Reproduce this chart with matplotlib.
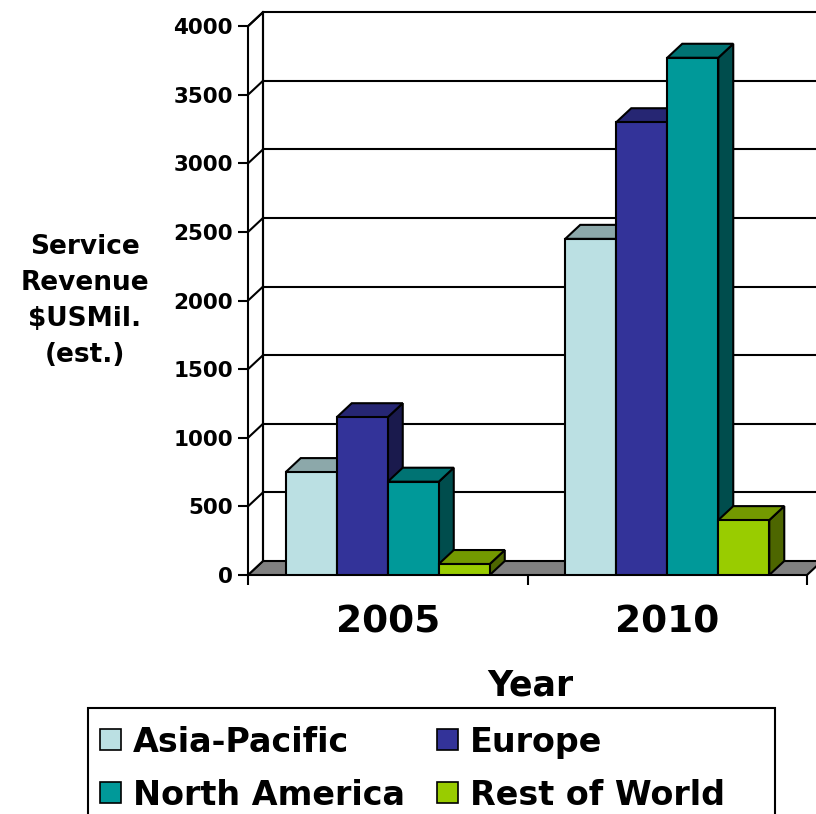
import numpy as np
import matplotlib
matplotlib.use("Agg")
import matplotlib.pyplot as plt
from matplotlib.patches import Polygon, Rectangle

# data
years = ["2005", "2010"]
series = ["Asia-Pacific", "Europe", "North America", "Rest of World"]
asia_pacific = [750, 2450]
europe = [1150, 3300]
north_america = [680, 3770]
rest_of_world = [80, 400]
values = [asia_pacific, europe, north_america, rest_of_world]
colors = ["#BBE0E3", "#333399", "#009999", "#99CC00"]
yticks = np.arange(0, 4001, 500)

plt.rcParams['font.family'] = ['DejaVu Sans']
plt.rcParams['font.weight'] = 'bold'

W, H = 816, 814
fig = plt.figure(figsize=(W / 100, H / 100), dpi=100)

# axes: x in category units (one category per unit), y in $US mil
cat_px = 279.5
val_px = 68.6 / 500
ax = fig.add_axes([248 / W, (H - 575) / H, (W - 248) / W, 575 / H])
ax.set_xlim(0, (W - 248) / cat_px)
ax.set_ylim(0, 575 / val_px)
for s in ax.spines.values():
    s.set_visible(False)

# 3d depth offset
dx = 15 / cat_px
dy = 14 / val_px
lw = 1.5
top = yticks[-1]
ncat = len(years)

# floor
ax.add_patch(Polygon([(0, 0), (ncat, 0), (ncat + dx, dy), (dx, dy)],
                     fc="#808080", ec="k", lw=lw, zorder=1, clip_on=False))
# left wall
ax.add_patch(Polygon([(0, 0), (0, top), (dx, top + dy), (dx, dy)],
                     fc="white", ec="k", lw=lw, zorder=1, clip_on=False))
# gridlines on left and back walls
for v in yticks[1:]:
    ax.plot([0, dx], [v, v + dy], color="k", lw=lw, zorder=2, clip_on=False)
    ax.plot([dx, ncat + 0.3], [v + dy, v + dy], color="k", lw=lw, zorder=2)
ax.plot([dx, dx], [dy, top + dy], color="k", lw=lw, zorder=2)


def shade(c, f):
    return tuple(np.array(matplotlib.colors.to_rgb(c)) * f)


bar_w = 0.1825
gap = (1 - len(series) * bar_w) / 2
for c in range(ncat):
    for i in range(len(series)):
        x0 = c + gap + i * bar_w
        x1 = x0 + bar_w
        v = values[i][c]
        z = 3 + c * 10 + i
        ax.add_patch(Polygon([(x1, 0), (x1 + dx, dy), (x1 + dx, v + dy), (x1, v)],
                             fc=shade(colors[i], 0.5), ec="k", lw=lw, zorder=z,
                             joinstyle="miter"))
        ax.add_patch(Polygon([(x0, v), (x1, v), (x1 + dx, v + dy), (x0 + dx, v + dy)],
                             fc=shade(colors[i], 0.75), ec="k", lw=lw, zorder=z,
                             joinstyle="miter"))
        ax.add_patch(Rectangle((x0, 0), bar_w, v, fc=colors[i], ec="k", lw=lw,
                               zorder=z, joinstyle="miter"))

# ticks
ax.set_yticks(yticks)
ax.set_yticklabels([str(t) for t in yticks])
ax.tick_params(axis='y', length=7.5, width=lw, pad=3.5, labelsize=15.5)
ax.set_xticks(range(ncat + 1))
ax.set_xticklabels([])
ax.set_xticks([c + 0.5 for c in range(ncat)], minor=True)
ax.set_xticklabels(years, minor=True, fontsize=27)
ax.tick_params(axis='x', which='major', length=7.5, width=lw)
ax.tick_params(axis='x', which='minor', length=0, pad=21)

fig.text(530 / W, 1 - 696 / H, "Year", ha='center', va='baseline', fontsize=25)
fig.text(85 / W, 1 - 301 / H, "Service\nRevenue\n\\$USMil.\n(est.)",
         ha='center', va='center', fontsize=19, linespacing=1.5)

# legend box
fig.patches.append(Rectangle((88 / W, 1 - 840 / H), (775 - 88) / W, (840 - 708) / H,
                             transform=fig.transFigure, fill=False, ec="k", lw=lw))
leg_x = [100, 437]
leg_base = [752, 805]
for i, name in enumerate(series):
    col, row = i % 2, i // 2
    fig.patches.append(Rectangle((leg_x[col] / W, 1 - (leg_base[row] - 2) / H),
                                 21 / W, 21 / H, transform=fig.transFigure,
                                 fc=colors[i], ec="k", lw=1.2))
    fig.text((leg_x[col] + 33) / W, 1 - leg_base[row] / H, name,
             ha='left', va='baseline', fontsize=24)

fig.savefig("out.png", dpi=100)
